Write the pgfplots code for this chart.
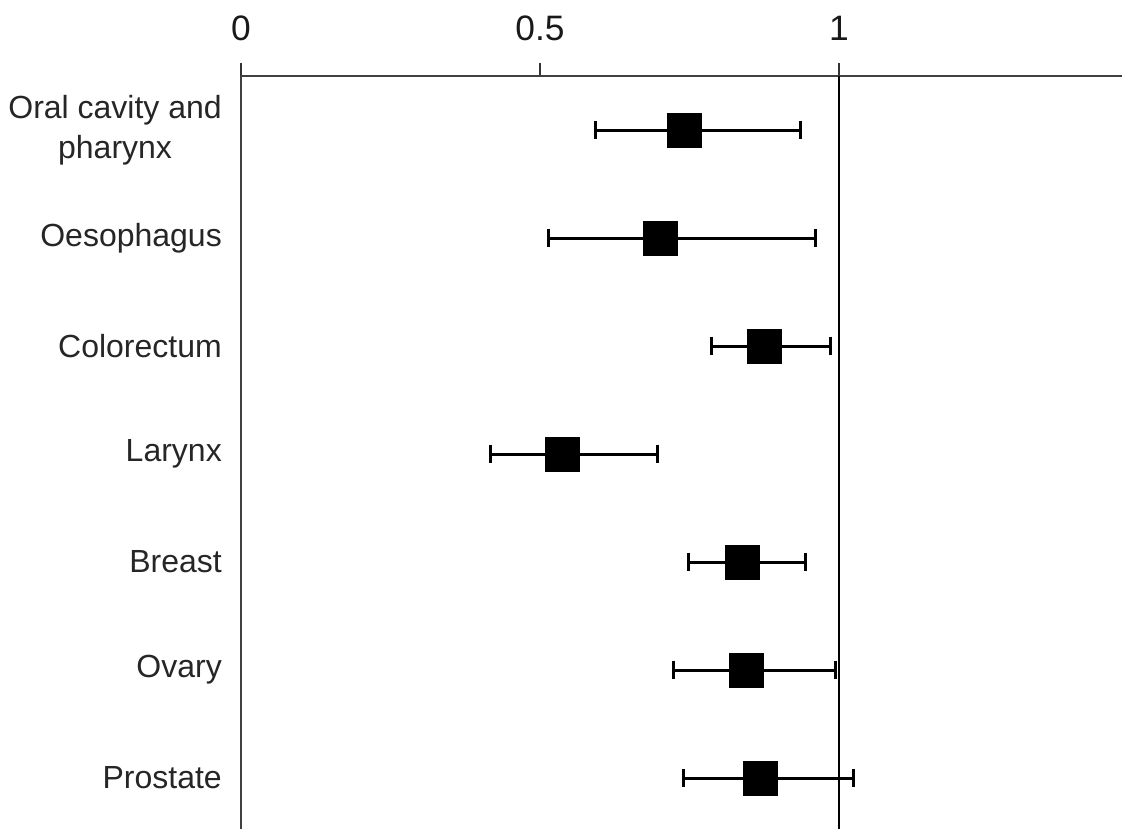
\documentclass[border=0pt]{standalone}
\usepackage{fontspec}
\setmainfont{Liberation Sans}
\usepackage{pgfplots}
\usepackage{pgfplotstable}
\pgfplotsset{compat=1.18}
\pgfplotstableread{
k  or     lo     hi
1  0.742  0.593  0.935
2  0.701  0.515  0.961
3  0.875  0.786  0.985
4  0.538  0.418  0.696
5  0.839  0.749  0.944
6  0.845  0.723  0.994
7  0.869  0.740  1.024
}\forest
\begin{document}
\begin{tikzpicture}
\begin{axis}[
  scale only axis,
  width=660.75pt, height=564.75pt,
  at={(0,0)}, anchor=south west,
  xmin=0, xmax=1.4733,
  ymin=0.5, ymax=7.472,
  y dir=reverse,
  axis x line=top,
  axis y line=left,
  axis line style={-, line width=1.5pt, black!75},
  xtick={0,0.5,1},
  xticklabels={0,0.5,1},
  x tick style={line width=1.2pt, black!80},
  major tick length=9.75pt,
  xtick align=outside,
  ytick={1,...,7},
  yticklabels={{Oral cavity and\\pharynx},Oesophagus,Colorectum,Larynx,Breast,Ovary,Prostate},
  y tick style={draw=none},
  yticklabel style={align=center, xshift=-6pt, text=black!85, font=\fontsize{24}{30}\selectfont},
  xticklabel style={yshift=13pt, text=black!90, font=\fontsize{26.5}{30}\selectfont},
  /pgf/number format/assume math mode=true,
  clip=false,
]
\draw[line width=1.5pt, black] (axis cs:1,0.5) -- (axis cs:1,7.472);
\addplot[only marks, mark=none, forget plot,
  error bars/.cd, x dir=both, x explicit,
  error mark=none,
  error bar style={line width=2.25pt, black}]
  table[x=or, y=k,
    x error plus expr=\thisrow{hi}-\thisrow{or},
    x error minus expr=\thisrow{or}-\thisrow{lo}] {\forest};
\addplot[only marks, mark=|, mark size=7pt,
  mark options={line width=2.25pt, black}] table[x=lo, y=k] {\forest};
\addplot[only marks, mark=|, mark size=7pt,
  mark options={line width=2.25pt, black}] table[x=hi, y=k] {\forest};
\addplot[only marks, mark=square*, mark size=12.75pt,
  mark options={fill=black, draw=black, line width=0.5pt}]
  table[x=or, y=k] {\forest};
\end{axis}
\pgfresetboundingbox
\path[use as bounding box] (-180.75pt,0) rectangle (660.75pt,621.75pt);
\end{tikzpicture}
\end{document}
